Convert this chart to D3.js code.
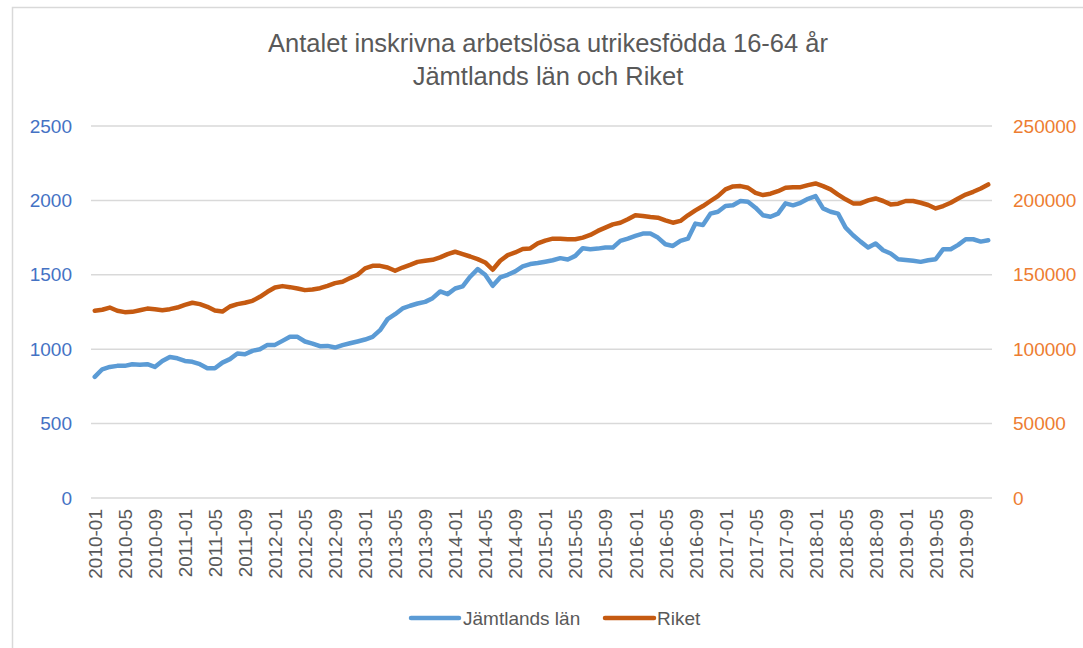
<!DOCTYPE html>
<html>
<head>
<meta charset="utf-8">
<script src="https://cdn.jsdelivr.net/npm/d3@7"></script>
<style>
  html, body { margin: 0; padding: 0; background: #fff; }
  svg { display: block; }
  text { font-family: "Liberation Sans", Arial, sans-serif; }
</style>
</head>
<body>
<svg id="chart" width="1083" height="648"></svg>
<script>
const years = [2010, 2011, 2012, 2013, 2014, 2015, 2016, 2017, 2018, 2019];
const months = ["01","02","03","04","05","06","07","08","09","10","11","12"];
const categories = [];
years.forEach(y => months.forEach(m => categories.push(y + "-" + m)));

const tickLabels = ["2010-01","2010-05","2010-09","2011-01","2011-05","2011-09","2012-01","2012-05","2012-09",
  "2013-01","2013-05","2013-09","2014-01","2014-05","2014-09","2015-01","2015-05","2015-09",
  "2016-01","2016-05","2016-09","2017-01","2017-05","2017-09","2018-01","2018-05","2018-09",
  "2019-01","2019-05","2019-09"];

const jamtland = [
  814,865,881,888,888,899,895,899,881,921,948,939,921,915,899,872,872,910,933,971,966,989,1000,1029,1029,1056,1083,1083,1052,1038,1020,
  1022,1011,1027,1040,1052,1065,1083,1128,1202,1235,1274,1292,1307,1318,1343,1388,1370,1408,1422,1487,1538,1500,1426,1482,1500,1523,1556,1572,1579,1588,
  1598,1612,1603,1627,1679,1672,1676,1683,1683,1728,1743,1761,1777,1777,1750,1705,1694,1728,1743,1844,1835,1911,1924,1962,1967,1996,1991,1951,1900,1890,
  1911,1980,1967,1984,2011,2029,1946,1924,1911,1817,1766,1723,1683,1710,1665,1643,1605,1600,1594,1587,1598,1605,1672,1672,1701,1739,1739,1723,1732
];

const riket = [
  125800,126500,128000,125800,124900,125100,126200,127300,126900,126200,126900,128000,129800,131200,130300,128500,126000,125300,128700,130300,131200,
  132500,135200,138600,141500,142400,141700,140800,139700,140100,141000,
  142600,144400,145300,147800,150000,154300,156000,156000,154900,152700,154900,156700,158700,159400,160100,161700,163900,165500,163900,162300,160500,158300,153400,159400,163200,165000,167300,167700,171100,173000,
  174300,174300,173900,173900,175000,176800,179500,181700,183900,185000,187300,190000,189500,188800,188400,186600,185000,186200,190000,193300,196200,199600,202900,207400,209400,209600,208500,205100,203600,204500,
  206200,208500,208900,208900,210300,211400,209600,207400,203900,200700,198000,198000,200000,201300,199600,197300,197800,199600,199600,198400,196900,194600,196200,198400,201300,203900,205800,208000,210700
];

const leftTicks = [0, 500, 1000, 1500, 2000, 2500];
const rightTicks = [0, 50000, 100000, 150000, 200000, 250000];
const titleLines = ["Antalet inskrivna arbetslösa utrikesfödda 16-64 år", "Jämtlands län och Riket"];
const seriesNames = ["Jämtlands län", "Riket"];
const colors = ["#5B9BD5", "#C55A11"];

const svg = d3.select("#chart");

// chart border
svg.append("rect").attr("x", 12.5).attr("y", 7.5).attr("width", 1100).attr("height", 700)
  .attr("fill", "none").attr("stroke", "#D9D9D9").attr("stroke-width", 1.5);

const plot = { left: 91, right: 992, top: 126, bottom: 498 };

const x = d3.scalePoint().domain(categories).range([plot.left, plot.right]).padding(0.5);
const yL = d3.scaleLinear().domain([0, 2500]).range([plot.bottom, plot.top]);
const yR = d3.scaleLinear().domain([0, 250000]).range([plot.bottom, plot.top]);

// gridlines
svg.append("g").selectAll("line").data(leftTicks).join("line")
  .attr("x1", plot.left).attr("x2", plot.right)
  .attr("y1", d => yL(d)).attr("y2", d => yL(d))
  .attr("stroke", "#D9D9D9").attr("stroke-width", 1.5);

// left axis
const leftAxis = d3.axisLeft(yL).tickValues(leftTicks).tickFormat(d3.format("d")).tickSize(0).tickPadding(19);
const gL = svg.append("g").attr("transform", `translate(${plot.left},0)`).call(leftAxis);
gL.select(".domain").remove();
gL.selectAll("text").attr("fill", "#4472C4").style("font-size", "19px")
  .style("font-family", "'Liberation Sans', Arial, sans-serif");

// right axis
const rightAxis = d3.axisRight(yR).tickValues(rightTicks).tickFormat(d3.format("d")).tickSize(0).tickPadding(21);
const gR = svg.append("g").attr("transform", `translate(${plot.right},0)`).call(rightAxis);
gR.select(".domain").remove();
gR.selectAll("text").attr("fill", "#ED7D31").style("font-size", "19px")
  .style("font-family", "'Liberation Sans', Arial, sans-serif");

// x axis labels
const xAxis = d3.axisBottom(x).tickValues(tickLabels).tickSize(0).tickPadding(0);
const gX = svg.append("g").attr("transform", `translate(0,${plot.bottom})`).call(xAxis);
gX.select(".domain").remove();
gX.selectAll("text")
  .attr("fill", "#595959").style("font-size", "19px")
  .style("font-family", "'Liberation Sans', Arial, sans-serif")
  .attr("text-anchor", "end")
  .attr("transform", "translate(0,11) rotate(-90)")
  .attr("x", 0).attr("y", 0).attr("dy", "0.35em");

// lines
const lineL = d3.line().x((d, i) => x(categories[i])).y(d => yL(d));
const lineR = d3.line().x((d, i) => x(categories[i])).y(d => yR(d));

svg.append("path").datum(jamtland).attr("d", lineL)
  .attr("fill", "none").attr("stroke", colors[0]).attr("stroke-width", 4.5)
  .attr("stroke-linejoin", "round").attr("stroke-linecap", "round");
svg.append("path").datum(riket).attr("d", lineR)
  .attr("fill", "none").attr("stroke", colors[1]).attr("stroke-width", 4.5)
  .attr("stroke-linejoin", "round").attr("stroke-linecap", "round");

// title
svg.append("g").selectAll("text").data(titleLines).join("text")
  .attr("x", 548).attr("y", (d, i) => 52 + i * 33)
  .attr("text-anchor", "middle").attr("fill", "#595959")
  .style("font-size", "25.5px").text(d => d);

// legend
const legendItems = [
  { name: seriesNames[0], color: colors[0], x1: 411, x2: 459, tx: 463 },
  { name: seriesNames[1], color: colors[1], x1: 605, x2: 654, tx: 657 }
];
const lg = svg.append("g");
legendItems.forEach(it => {
  lg.append("line").attr("x1", it.x1).attr("x2", it.x2).attr("y1", 618).attr("y2", 618)
    .attr("stroke", it.color).attr("stroke-width", 4.5).attr("stroke-linecap", "round");
  lg.append("text").attr("x", it.tx).attr("y", 625).attr("fill", "#595959")
    .style("font-size", "19px").text(it.name);
});
</script>
</body>
</html>
